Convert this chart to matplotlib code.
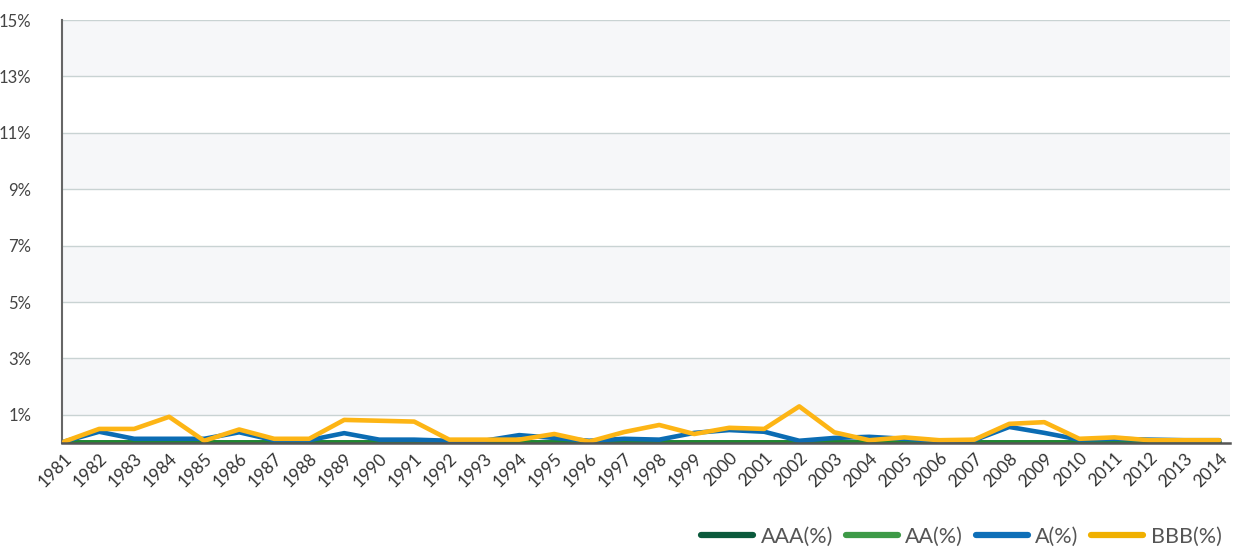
import matplotlib.pyplot as plt
import numpy as np

years = [str(y) for y in range(1981, 2015)]

# default rates by rating grade, %
aaa = [0.02] * 34
aa = [0.05] * 34
a = [0.05, 0.40, 0.15, 0.15, 0.15, 0.38, 0.10, 0.10, 0.35, 0.12,
     0.12, 0.08, 0.08, 0.28, 0.18, 0.08, 0.15, 0.12, 0.36, 0.46,
     0.40, 0.08, 0.18, 0.22, 0.15, 0.08, 0.10, 0.57, 0.36, 0.12,
     0.15, 0.12, 0.10, 0.10]
bbb = [0.05, 0.50, 0.50, 0.93, 0.08, 0.48, 0.15, 0.15, 0.82, 0.79,
       0.76, 0.12, 0.12, 0.12, 0.32, 0.05, 0.39, 0.64, 0.32, 0.54,
       0.50, 1.30, 0.38, 0.10, 0.20, 0.10, 0.12, 0.68, 0.74, 0.15,
       0.20, 0.10, 0.10, 0.10]

series = [("AAA(%)", aaa, "#0b5a3c"), ("AA(%)", aa, "#1f8a2e"),
          ("A(%)", a, "#0b6cb3"), ("BBB(%)", bbb, "#fdb515")]
legend_colors = {"AAA(%)": "#0b5a3c", "AA(%)": "#3d9a47", "A(%)": "#0e6fb8", "BBB(%)": "#f0b000"}

plt.rcParams['font.family'] = ['Lato', 'DejaVu Sans']

fig = plt.figure(figsize=(12.41, 5.5), dpi=100)
ax = fig.add_axes([0.05, 0.1945, 0.941, 0.769])

x = np.arange(len(years))
ax.set_xlim(-0.06, 33.3)
ax.set_ylim(0, 15)

# alternating background bands
for lo in [1, 5, 9, 13]:
    ax.axhspan(lo, lo + 2, color="#f6f7f9", zorder=0, lw=0)
for v in range(1, 16, 2):
    ax.axhline(v, color="#c9d3d3", lw=1, zorder=1)

handles = []
for name, vals, col in series:
    ax.plot(x, vals, color=col, lw=3.3, solid_capstyle='round', solid_joinstyle='round', zorder=3)
    h, = ax.plot([], [], color=legend_colors[name], lw=4.5, solid_capstyle='round', label=name)
    handles.append(h)

ax.set_yticks(range(1, 16, 2))
ax.set_yticklabels([f"{v}%" for v in range(1, 16, 2)])
ax.set_xticks(x)
ax.set_xticklabels(years, rotation=45, ha='right', va='top', rotation_mode='anchor')
ax.tick_params(axis='y', length=0, pad=22, labelsize=12, labelcolor="#444444")
ax.tick_params(axis='x', length=0, pad=5, labelsize=12.5, labelcolor="#333333")

for s in ['top', 'right']:
    ax.spines[s].set_visible(False)
ax.spines['left'].set_color("#666666")
ax.spines['left'].set_linewidth(1.5)
ax.spines['bottom'].set_color("#555555")
ax.spines['bottom'].set_linewidth(1.8)
ax.spines['bottom'].set_zorder(4)

fig.legend(handles=handles, loc='lower right', bbox_to_anchor=(0.993, -0.013), ncol=4,
           frameon=False, fontsize=15.5, handlelength=2.4, handletextpad=0.35,
           columnspacing=0.6, borderaxespad=0.1, labelcolor="#555555")

fig.savefig("out.png", dpi=100, facecolor="white")
